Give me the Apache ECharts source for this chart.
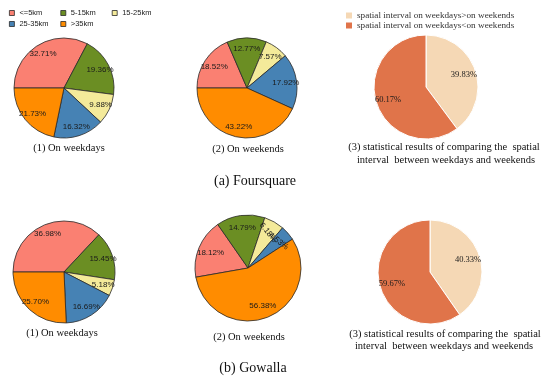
<!DOCTYPE html>
<html>
<head>
<meta charset="utf-8">
<script src="https://cdn.jsdelivr.net/npm/echarts@6/dist/echarts.min.js"></script>
<style>
html,body{margin:0;padding:0;background:#fff;}
#chart{width:550px;height:383px;}
</style>
</head>
<body>
<div id="chart"></div>
<script>
// ---- data ----
const categories = ['<=5km', '5-15km', '15-25km', '25-35km', '>35km'];
const fsqWeekdays = [32.71, 19.36, 9.88, 16.32, 21.73];
const fsqWeekends = [18.52, 12.77, 7.57, 17.92, 43.22];
const gowWeekdays = [36.98, 15.45, 5.18, 16.69, 25.70];
const gowWeekends = [18.12, 14.79, 6.18, 4.53, 56.38];
const compareCategories = ['spatial interval on weekdays>on weekends', 'spatial interval on weekdays<on weekends'];
const fsqCompare = [39.83, 60.17];
const gowCompare = [40.33, 59.67];
const captions = {
  weekdays: '(1) On weekdays',
  weekends: '(2) On weekends',
  compare1: '(3) statistical results of comparing the  spatial',
  compare2: 'interval  between weekdays and weekends',
  fsq: '(a) Foursquare',
  gow: '(b) Gowalla'
};

// ---- styles ----
const distColors = ['#FA8072', '#6B8E23', '#F4EA9A', '#4682B4', '#FF8C00'];
const cmpColors = ['#F5D8B5', '#E0744A'];
const SANS = 'Liberation Sans';
const SERIF = 'Liberation Serif';

function makePie(names, values, center, r, startAngle, colors, opts) {
  const data = names.map((n, i) => ({
    name: n, value: values[i],
    itemStyle: { color: colors[i] }
  }));
  const labelData = names.map((n, i) => {
    const item = { name: n, value: values[i], itemStyle: { color: 'rgba(0,0,0,0)', borderWidth: 0 } };
    if (opts.rotations && opts.rotations[i] !== undefined) {
      item.label = { rotate: opts.rotations[i] };
    }
    return item;
  });
  return [
    {
      type: 'pie', center: center, radius: [0, r], startAngle: startAngle, clockwise: true,
      silent: true, animation: false,
      itemStyle: { borderColor: opts.border, borderWidth: opts.borderWidth },
      label: { show: false }, labelLine: { show: false },
      emphasis: { disabled: true },
      data: data
    },
    {
      type: 'pie', center: center, radius: [r * opts.inner, r], startAngle: startAngle, clockwise: true,
      silent: true, animation: false, avoidLabelOverlap: false, minShowLabelAngle: 0,
      labelLayout: { hideOverlap: false },
      label: {
        show: true, position: 'inside', overflow: 'none',
        formatter: p => p.value.toFixed(2) + '%',
        fontFamily: opts.font, fontSize: opts.fontSize, color: '#1a1a1a'
      },
      labelLine: { show: false },
      emphasis: { disabled: true },
      data: labelData
    }
  ];
}

const distOpts = { border: '#2a2a2a', borderWidth: 0.8, inner: 0.5, font: SANS, fontSize: 8 };
const cmpOpts = { border: '#ffffff', borderWidth: 1, inner: 0.42, font: SERIF, fontSize: 8.5 };

const series = [].concat(
  makePie(categories, fsqWeekdays, [64, 88], 50, 180, distColors, distOpts),
  makePie(categories, fsqWeekends, [247, 88], 50, 180, distColors, Object.assign({}, distOpts, { inner: 0.45 })),
  makePie(compareCategories, fsqCompare, [426, 87], 52, 90, cmpColors, cmpOpts),
  makePie(categories, gowWeekdays, [64, 272], 51, 180, distColors, distOpts),
  makePie(categories, gowWeekends, [248, 268], 53, 190, distColors, Object.assign({}, distOpts, { inner: 0.42, rotations: { 2: -52, 3: -38 } })),
  makePie(compareCategories, gowCompare, [430, 272], 52, 90, cmpColors, cmpOpts)
);

function caption(text, x, y, size) {
  return {
    type: 'text', x: x, y: y, silent: true,
    style: { text: text, fill: '#111', font: size + 'px "' + SERIF + '"', textAlign: 'center', textVerticalAlign: 'middle' }
  };
}

const legendBase = {
  orient: 'horizontal', icon: 'rect', itemWidth: 5, itemHeight: 5, itemGap: 5,
  selectedMode: false,
  itemStyle: { borderColor: '#2a2a2a', borderWidth: 0.8 },
  textStyle: { fontFamily: SANS, fontSize: 7.5, color: '#222', width: 36, lineHeight: 9, padding: 0 },
  padding: 0
};

const option = {
  backgroundColor: '#ffffff',
  animation: false,
  legend: [
    Object.assign({}, legendBase, { left: 9, top: 8.5, data: categories.slice(0, 3) }),
    Object.assign({}, legendBase, { left: 9, top: 19.5, data: categories.slice(3) }),
    {
      orient: 'vertical', icon: 'rect', itemWidth: 6, itemHeight: 6, itemGap: 1,
      left: 346, top: 11, padding: 0, selectedMode: false,
      itemStyle: { borderWidth: 0 },
      textStyle: { fontFamily: SERIF, fontSize: 9.2, color: '#333', lineHeight: 9, padding: 0 },
      data: compareCategories
    }
  ],
  series: series,
  graphic: [
    caption(captions.weekdays, 69, 148, 10.5),
    caption(captions.weekends, 248, 149, 10.5),
    caption(captions.compare1, 444, 147, 10.5),
    caption(captions.compare2, 446, 160, 10.5),
    caption(captions.fsq, 255, 181, 14),
    caption(captions.weekdays, 62, 333, 10.5),
    caption(captions.weekends, 249, 337, 10.5),
    caption(captions.compare1, 445, 334, 10.5),
    caption(captions.compare2, 444, 346, 10.5),
    caption(captions.gow, 253, 368, 14)
  ]
};

const chart = echarts.init(document.getElementById('chart'), null, { renderer: 'canvas' });
chart.setOption(option);
</script>
</body>
</html>
